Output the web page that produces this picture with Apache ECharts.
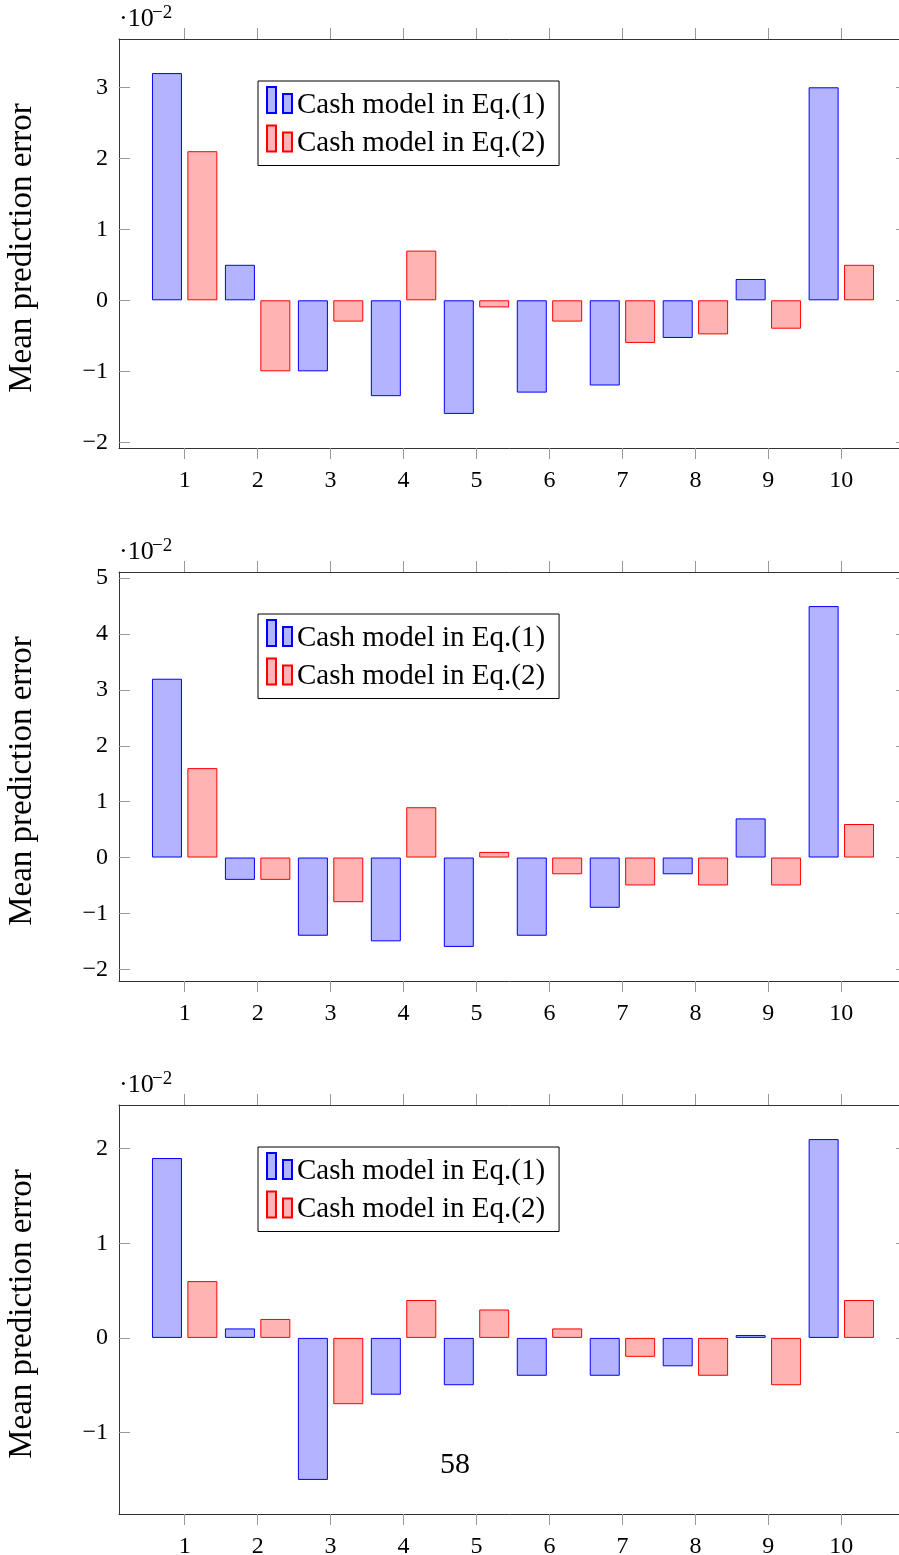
<!DOCTYPE html>
<html><head><meta charset="utf-8">
<script src="https://cdn.jsdelivr.net/npm/echarts@6/dist/echarts.min.js"></script>
<style>html,body{margin:0;padding:0;background:#fff}#c{width:899px;height:1555px}</style>
</head><body><div id="c"></div>
<script>
// ---- data (values in units of 10^-2) ----
const categories = [1, 2, 3, 4, 5, 6, 7, 8, 9, 10];
const seriesNames = ['Cash model in Eq.(1)', 'Cash model in Eq.(2)'];
const panel1Eq1 = [3.2, 0.5, -1.0, -1.35, -1.6, -1.3, -1.2, -0.53, 0.3, 3.0];
const panel1Eq2 = [2.1, -1.0, -0.3, 0.7, -0.1, -0.3, -0.6, -0.48, -0.4, 0.5];
const panel2Eq1 = [3.2, -0.4, -1.4, -1.5, -1.6, -1.4, -0.9, -0.3, 0.7, 4.5];
const panel2Eq2 = [1.6, -0.4, -0.8, 0.9, 0.1, -0.3, -0.5, -0.5, -0.5, 0.6];
const panel3Eq1 = [1.9, 0.1, -1.5, -0.6, -0.5, -0.4, -0.4, -0.3, 0.03, 2.1];
const panel3Eq2 = [0.6, 0.2, -0.7, 0.4, 0.3, 0.1, -0.2, -0.4, -0.5, 0.4];
const yTicks1 = [-2, -1, 0, 1, 2, 3];
const yTicks2 = [-2, -1, 0, 1, 2, 3, 4, 5];
const yTicks3 = [-1, 0, 1, 2];
const yAxisTitle = 'Mean prediction error';
const scaleBase = '·10';
const scaleExp = '−2';
const pageNumber = '58';

// ---- layout / style ----
const FONT = '"Liberation Serif", "DejaVu Serif", serif';
const panels = [
  { eq1: panel1Eq1, eq2: panel1Eq2, ticks: yTicks1, top: 39 },
  { eq1: panel2Eq1, eq2: panel2Eq2, ticks: yTicks2, top: 572 },
  { eq1: panel3Eq1, eq2: panel3Eq2, ticks: yTicks3, top: 1105 }
];
const GRID_LEFT = 119, GRID_W = 788, GRID_H = 409;
const xMin = categories[0] - 0.1 * (categories[categories.length - 1] - categories[0]);
const xMax = categories[categories.length - 1] + 0.1 * (categories[categories.length - 1] - categories[0]);
const fmt = v => (v < 0 ? '−' + Math.abs(v) : String(v));
const ICON = 'path://M0 0H9V26H0Z M16 7H25V26H16Z M0 36';

const grid = [], xAxis = [], yAxis = [], series = [], legend = [], graphic = [];
panels.forEach((p, i) => {
  const all = p.eq1.concat(p.eq2, [0]);
  const dMin = Math.min.apply(null, all), dMax = Math.max.apply(null, all);
  const pad = 0.1 * (dMax - dMin);
  grid.push({ left: GRID_LEFT, top: p.top, width: GRID_W, height: GRID_H, containLabel: false, outerBoundsMode: 'none' });
  const axLine = { show: true, onZero: false, lineStyle: { color: '#333', width: 1 } };
  xAxis.push({
    type: 'value', gridIndex: i, position: 'bottom', min: xMin, max: xMax,
    axisLine: axLine, splitLine: { show: false },
    axisTick: { show: true, inside: false, length: 11, customValues: categories, lineStyle: { color: '#999' } },
    axisLabel: { show: true, customValues: categories, margin: 21, fontFamily: FONT, fontSize: 24, color: '#000' }
  });
  xAxis.push({
    type: 'value', gridIndex: i, position: 'top', min: xMin, max: xMax,
    axisLine: axLine, splitLine: { show: false },
    axisTick: { show: true, inside: false, length: 11, customValues: categories, lineStyle: { color: '#999' } },
    axisLabel: { show: false }
  });
  yAxis.push({
    type: 'value', gridIndex: i, position: 'left', min: dMin - pad, max: dMax + pad,
    axisLine: axLine, splitLine: { show: false },
    axisTick: { show: true, inside: true, length: 11, customValues: p.ticks, lineStyle: { color: '#999' } },
    axisLabel: { show: true, customValues: p.ticks, formatter: fmt, margin: 11, fontFamily: FONT, fontSize: 24, color: '#000' },
    name: yAxisTitle, nameLocation: 'middle', nameGap: 80,
    nameTextStyle: { fontFamily: FONT, fontSize: 33, color: '#000', padding: [0, 9, 0, 0] }
  });
  yAxis.push({
    type: 'value', gridIndex: i, position: 'right', min: dMin - pad, max: dMax + pad,
    axisLine: axLine, splitLine: { show: false },
    axisTick: { show: true, inside: true, length: 11, customValues: p.ticks, lineStyle: { color: '#999' } },
    axisLabel: { show: false }
  });
  series.push({
    type: 'bar', name: seriesNames[0], xAxisIndex: 2 * i, yAxisIndex: 2 * i,
    data: p.eq1.map((v, k) => [categories[k], v]),
    barWidth: 30, barGap: '18%',
    itemStyle: { color: '#b3b3ff', borderColor: '#0000ff', borderWidth: 1 }
  });
  series.push({
    type: 'bar', name: seriesNames[1], xAxisIndex: 2 * i, yAxisIndex: 2 * i,
    data: p.eq2.map((v, k) => [categories[k], v]),
    barWidth: 30, barGap: '18%',
    itemStyle: { color: '#ffb3b3', borderColor: '#ff0000', borderWidth: 1 }
  });
  legend.push({
    orient: 'vertical', left: 258, top: p.top + 42, data: seriesNames,
    icon: ICON, itemWidth: 25, itemHeight: 36, itemGap: 0.5,
    padding: [5, 14, 3, 8], borderColor: '#000', borderWidth: 1, backgroundColor: '#fff',
    selectedMode: false,
    textStyle: { fontFamily: FONT, fontSize: 29, color: '#000' }
  });
  graphic.push({
    type: 'text', x: 119, y: p.top - 19.5,
    style: { text: scaleBase, font: '26px ' + FONT, fill: '#000', verticalAlign: 'middle', align: 'left' }
  });
  graphic.push({
    type: 'text', x: 152, y: p.top - 26,
    style: { text: scaleExp, font: '19px ' + FONT, fill: '#000', verticalAlign: 'middle', align: 'left' }
  });
});
graphic.push({
  type: 'text', x: 455, y: 1465,
  style: { text: pageNumber, font: '30px ' + FONT, fill: '#000', verticalAlign: 'middle', align: 'center' }
});

const chart = echarts.init(document.getElementById('c'), null, { renderer: 'canvas' });
chart.setOption({
  animation: false, backgroundColor: '#fff',
  grid, xAxis, yAxis, series, legend, graphic
});
</script></body></html>
